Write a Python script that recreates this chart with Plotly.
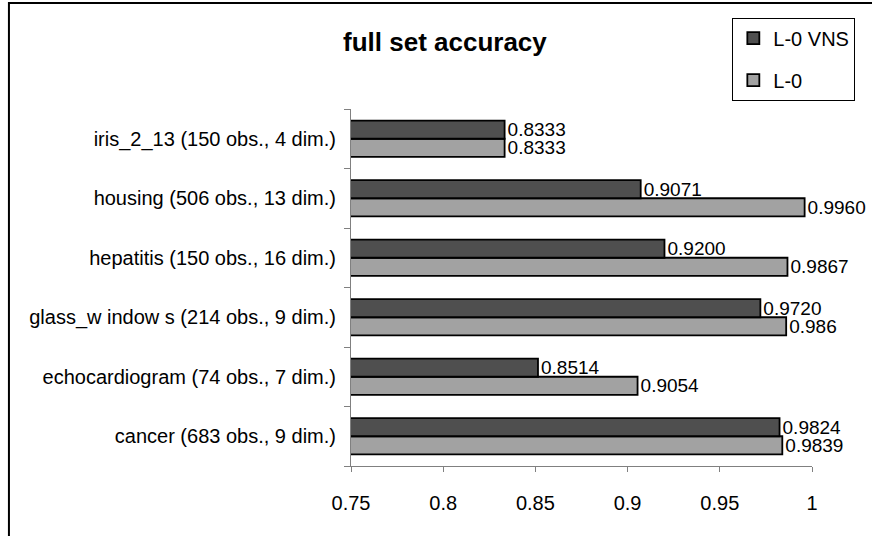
import plotly.graph_objects as go

# Datasets, listed from the bottom of the chart upwards
datasets = [
    "cancer (683 obs., 9 dim.)",
    "echocardiogram (74 obs., 7 dim.)",
    "glass_w indow s (214 obs., 9 dim.)",
    "hepatitis (150 obs., 16 dim.)",
    "housing (506 obs., 13 dim.)",
    "iris_2_13 (150 obs., 4 dim.)",
]

# Accuracy values as printed next to each bar
l0_vns_acc = ["0.9824", "0.8514", "0.9720", "0.9200", "0.9071", "0.8333"]
l0_acc = ["0.9839", "0.9054", "0.986", "0.9867", "0.9960", "0.8333"]

x_ticks = [0.75, 0.8, 0.85, 0.9, 0.95, 1.0]
x_tick_text = ["0.75", "0.8", "0.85", "0.9", "0.95", "1"]

FONT = "Liberation Sans, Arial, sans-serif"
DARK = "#4f4f4f"
LIGHT = "#a2a2a2"

fig = go.Figure()

bar_common = dict(
    orientation="h",
    textposition="outside",
    constraintext="none",
    cliponaxis=False,
    textfont=dict(family=FONT, size=19, color="#000000"),
)

fig.add_trace(go.Bar(
    name="L-0",
    y=datasets,
    x=[float(v) for v in l0_acc],
    text=l0_acc,
    marker=dict(color=LIGHT, line=dict(color="#000000", width=1.8)),
    legendgroup="b",
    legendrank=2,
    **bar_common,
))
fig.add_trace(go.Bar(
    name="L-0 VNS",
    y=datasets,
    x=[float(v) for v in l0_vns_acc],
    text=l0_vns_acc,
    marker=dict(color=DARK, line=dict(color="#000000", width=1.8)),
    legendgroup="a",
    legendrank=1,
    **bar_common,
))

# Outer chart frame (only its left and top edges fall inside the page)
fig.add_shape(
    type="rect", xref="paper", yref="paper",
    x0=-0.742, x1=1.16, y0=-0.24, y1=1.297,
    line=dict(color="#000000", width=2), fillcolor="rgba(0,0,0,0)",
    layer="above",
)

fig.update_layout(
    width=872, height=536,
    margin=dict(l=351, r=60, t=109, b=70),
    paper_bgcolor="#ffffff",
    plot_bgcolor="#ffffff",
    barmode="group",
    bargap=0.394,
    bargroupgap=0,
    font=dict(family=FONT, size=20, color="#000000"),
    title=dict(
        text="<b>full set accuracy</b>",
        font=dict(family=FONT, size=26, color="#000000"),
        xref="paper", x=0.2037, xanchor="center",
        yref="container", y=0.922, yanchor="middle",
    ),
    legend=dict(
        traceorder="grouped",
        tracegroupgap=13,
        x=1.094, xanchor="right",
        y=1.256, yanchor="top",
        bordercolor="#000000", borderwidth=1,
        bgcolor="#ffffff",
        font=dict(family=FONT, size=20, color="#000000"),
    ),
    xaxis=dict(
        range=[0.75, 1.0],
        tickmode="array", tickvals=x_ticks, ticktext=x_tick_text,
        showgrid=False, zeroline=False,
        showline=True, linecolor="#808080", linewidth=1,
        ticks="outside", ticklen=5, tickcolor="#808080",
        ticklabelstandoff=14,
        tickfont=dict(family=FONT, size=20, color="#000000"),
    ),
    yaxis=dict(
        type="category",
        categoryorder="array", categoryarray=datasets,
        showgrid=False, zeroline=False,
        showline=True, linecolor="#808080", linewidth=1,
        ticks="outside", ticklen=6, tickcolor="#808080",
        tickson="boundaries",
        ticklabelstandoff=10,
        tickfont=dict(family=FONT, size=20, color="#000000"),
    ),
)

fig.write_html("out.html")
